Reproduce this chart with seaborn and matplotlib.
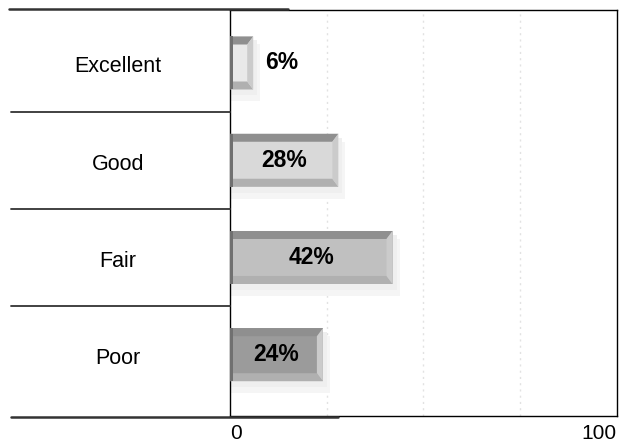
import matplotlib
matplotlib.use("Agg")
import matplotlib.pyplot as plt
import seaborn as sns
import pandas as pd
import numpy as np
from matplotlib.patches import Polygon, Rectangle
from matplotlib.lines import Line2D

categories = ["Excellent", "Good", "Fair", "Poor"]
values = [6, 28, 42, 24]
value_labels = ["6%", "28%", "42%", "24%"]
face_colors = ["#e9e9e9", "#d9d9d9", "#c0c0c0", "#9b9b9b"]
xtick_vals = [0, 100]
xtick_labels = ["0", "100"]

sns.set_theme(style="white")
plt.rcParams["font.family"] = ["Liberation Sans", "DejaVu Sans"]

W, H = 619, 444
fig = plt.figure(figsize=(W / 100, H / 100), dpi=100)
ax_l, ax_r, ax_t, ax_b = 230, 617, 10, 416
ax = fig.add_axes([ax_l / W, 1 - ax_b / H, (ax_r - ax_l) / W, (ax_b - ax_t) / H])

df = pd.DataFrame({"cat": categories, "val": values})
sns.barplot(data=df, x="val", y="cat", hue="cat", palette=face_colors,
            orient="h", width=0.545, legend=False, ax=ax, zorder=3,
            edgecolor="none", linewidth=0)

ax.set_xlim(0, 100)
ax.set_ylim(3.63, -0.545)

# pixel -> data conversions
dx = 100 / (ax_r - ax_l)
dy = (3.63 + 0.545) / (ax_b - ax_t)

for i, p in enumerate(ax.patches):
    x0 = p.get_x()
    w = p.get_width()
    x1 = x0 + w
    y0 = p.get_y()
    h = p.get_height()
    yt, yb = min(y0, y0 + h), max(y0, y0 + h)
    t = 8 * dy
    r = 6 * dx
    # soft shadow
    ax.add_patch(Rectangle((x0, yt + 8 * dy), w + 7 * dx, h + 4 * dy,
                           facecolor="#f5f5f5", edgecolor="none", zorder=2))
    ax.add_patch(Rectangle((x0, yt + 4 * dy), w + 4 * dx, h + 2 * dy,
                           facecolor="#efefef", edgecolor="none", zorder=2))
    # bevels
    ax.add_patch(Polygon([(x0, yt), (x1, yt), (x1 - r, yt + t), (x0, yt + t)],
                         closed=True, facecolor="#8f8f8f", edgecolor="none", zorder=4))
    ax.add_patch(Polygon([(x0, yb), (x1, yb), (x1 - r, yb - t), (x0, yb - t)],
                         closed=True, facecolor="#b0b0b0", edgecolor="none", zorder=4))
    ax.add_patch(Polygon([(x1, yt), (x1, yb), (x1 - r, yb - t), (x1 - r, yt + t)],
                         closed=True, facecolor="#cbcbcb", edgecolor="none", zorder=4))
    ax.add_patch(Rectangle((x0, yt), 3 * dx, h, facecolor="#707070",
                           edgecolor="none", zorder=5))
    # value labels
    cy = (yt + yb) / 2
    if w < 10:
        ax.text(x1 + 12 * dx, cy, value_labels[i], ha="left", va="center",
                fontsize=16.5, fontweight="bold", color="black", zorder=6)
    else:
        ax.text((x0 + x1) / 2, cy, value_labels[i], ha="center", va="center",
                fontsize=16.5, fontweight="bold", color="black", zorder=6)

# grid
for gx in [25, 50, 75]:
    ax.axvline(gx, color="#e2e2e2", lw=1, ls=(0, (1.5, 3)), zorder=1)

for s in ax.spines.values():
    s.set_visible(True)
    s.set_color("black")
    s.set_linewidth(1)

ax.set_xlabel("")
ax.set_ylabel("")
ax.set_xticks(xtick_vals)
ax.set_xticklabels(xtick_labels, fontsize=15, color="black")
xl = ax.get_xticklabels()
xl[0].set_ha("left")
xl[-1].set_ha("right")
ax.tick_params(axis="x", length=0, pad=6)
ax.set_yticks(np.arange(len(categories)) + 4 * dy)
ax.set_yticklabels(categories, fontsize=15.5, color="black")
for lab in ax.get_yticklabels():
    lab.set_ha("center")
    lab.set_va("center")
ax.tick_params(axis="y", length=0, pad=(ax_l - 118) * 0.72)

# left table lines
for yy in [112, 209, 306]:
    fig.add_artist(Line2D([11 / W, ax_l / W], [1 - yy / H, 1 - yy / H],
                          color="#333333", lw=1.3))
fig.add_artist(Line2D([9 / W, 288 / W], [1 - 9.5 / H, 1 - 9.5 / H],
                      color="#333333", lw=1.8))
fig.add_artist(Line2D([11 / W, 338 / W], [1 - 416.5 / H, 1 - 416.5 / H],
                      color="#333333", lw=1.8))

fig.savefig("out.png", dpi=100)
